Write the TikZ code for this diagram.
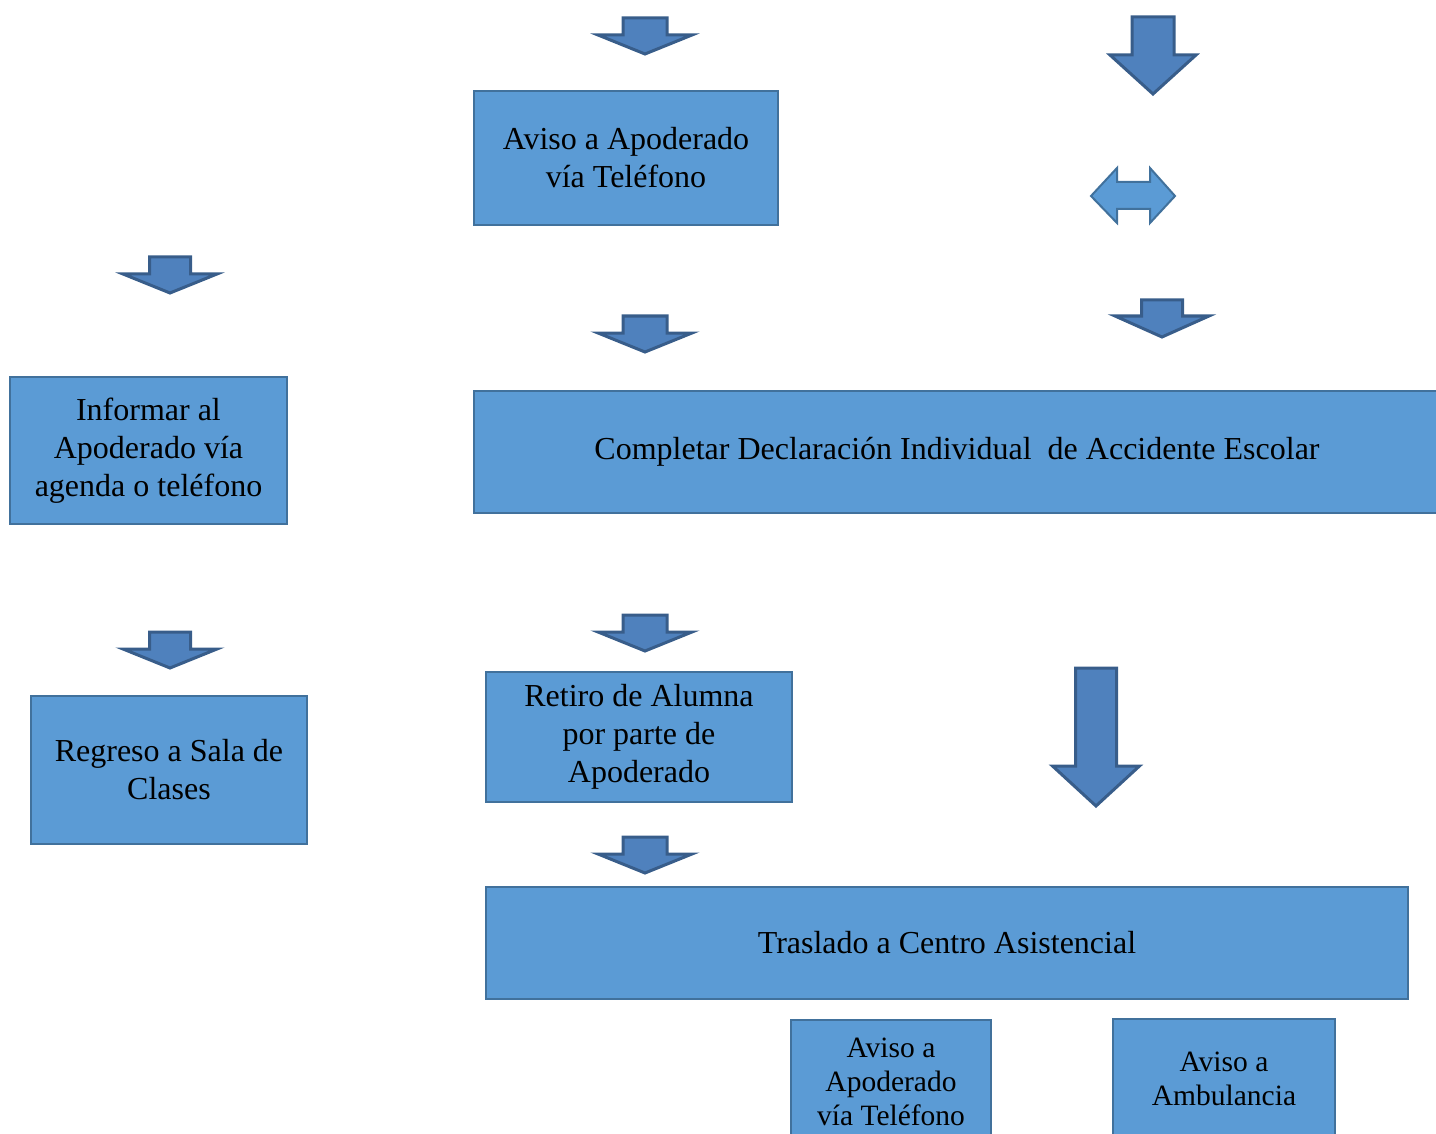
\documentclass[tikz,border=0pt]{standalone}
\usepackage{fontspec}
\setmainfont{Liberation Serif}
\usepackage{xcolor}
\usepackage{tikz}
\usetikzlibrary{positioning, arrows.meta}

\definecolor{cajaazul}{HTML}{5B9BD5}
\definecolor{bordecaja}{HTML}{41719C}
\definecolor{flechaazul}{HTML}{4F81BD}
\definecolor{bordeflecha}{HTML}{385D8A}

\tikzset{
  caja/.style={draw=bordecaja, fill=cajaazul, line width=2pt, inner sep=0pt,
    align=center, font=\fontsize{32}{38}\selectfont},
  cajachica/.style={caja, font=\fontsize{29.5}{34}\selectfont},
  flecha/.style={draw=bordeflecha, fill=flechaazul, line width=3pt, line join=miter},
  flechadoble/.style={draw=bordecaja, fill=cajaazul, line width=2pt}
}

% flecha hacia abajo: centro x, arriba, medio ancho cuerpo, base cuerpo, medio ancho punta, punta
\newcommand{\flechaabajo}[6]{%
  \draw[flecha] ({#1-#3},#2) -- ({#1+#3},#2) -- ({#1+#3},#4) -- ({#1+#5},#4)
    -- (#1,#6) -- ({#1-#5},#4) -- ({#1-#3},#4) -- cycle;}

\begin{document}
\begin{tikzpicture}[x=1pt,y=-1pt]
        \useasboundingbox (0,0) rectangle (1436,1134);
        % Cajas
        \node[caja, minimum width=304pt, minimum height=134pt] (avisoA) at (626,158)
          {Aviso a Apoderado\\vía Teléfono};
        \node[caja, minimum width=277pt, minimum height=147pt] (informar) at (148.5,450.5)
          {Informar al\\Apoderado vía\\agenda o teléfono};
        \node[caja, minimum width=966pt, minimum height=122pt] (completar) at (957,452)
          {Completar Declaración Individual\ \ de Accidente Escolar};
        \node[caja, minimum width=276pt, minimum height=148pt] (regreso) at (169,770)
          {Regreso a Sala de\\Clases};
        \node[caja, minimum width=306pt, minimum height=130pt] (retiro) at (639,737)
          {Retiro de Alumna\\por parte de\\Apoderado};
        \node[caja, minimum width=922pt, minimum height=112pt] (traslado) at (947,943)
          {Traslado a Centro Asistencial};
        \node[cajachica, minimum width=200pt, minimum height=124pt] (avisoB) at (891,1082)
          {Aviso a\\Apoderado\\vía Teléfono};
        \node[cajachica, minimum width=222pt, minimum height=120pt] (ambulancia) at (1224,1079)
          {Aviso a\\Ambulancia};
        % Flechas chicas
        \foreach \xa/\ya/\sh/\yb/\yc in {645/18/22/35/54, 170/257/20.5/274/293,
            645/316/22/333/352, 1162/300/20.5/316/337, 170/632/20.5/649/668,
            645/615/22/632/651, 645/837/22/854/873} {
            \flechaabajo{\xa}{\ya}{\sh}{\yb}{47}{\yc}
        }
        % Flechas grandes
        \flechaabajo{1153}{17}{21}{55}{43}{94}
        \flechaabajo{1096}{668}{20.5}{766}{43.5}{806}
        % Flecha doble
        \draw[flechadoble] (1091,196) -- (1117,168) -- (1117,182) -- (1150,182) -- (1150,168)
          -- (1175,196) -- (1150,223) -- (1150,209) -- (1117,209) -- (1117,223) -- cycle;
    \end{tikzpicture}
\end{document}
